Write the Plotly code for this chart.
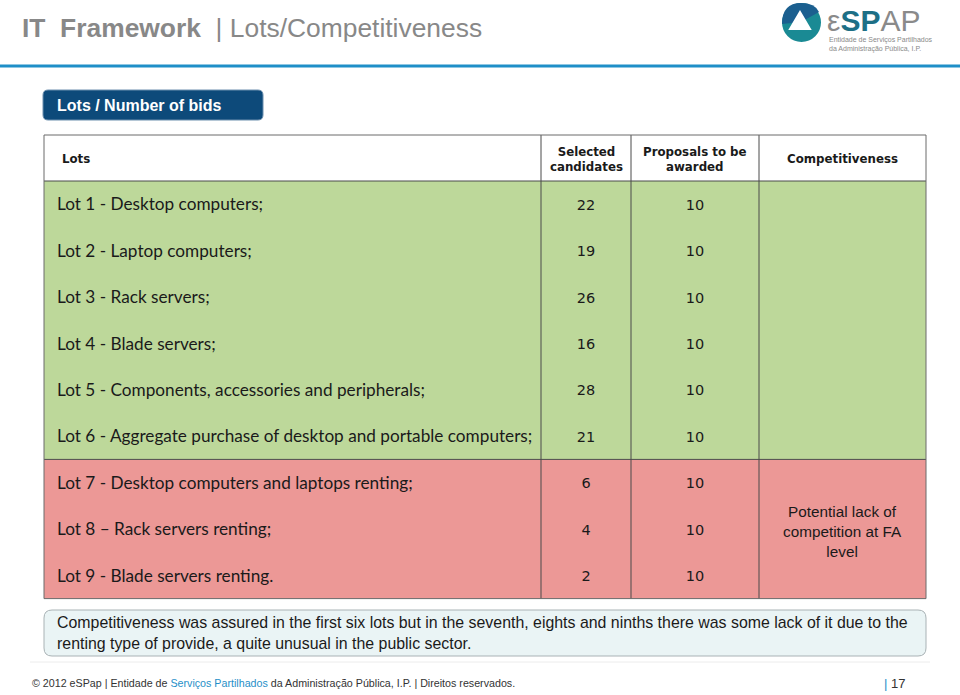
import plotly.graph_objects as go

# ---------------- data ----------------
lots = [
    "Lot 1 - Desktop computers;",
    "Lot 2 - Laptop computers;",
    "Lot 3 - Rack servers;",
    "Lot 4 - Blade servers;",
    "Lot 5 - Components, accessories and peripherals;",
    "Lot 6 - Aggregate purchase of desktop and portable computers;",
    "Lot 7 - Desktop computers and laptops renting;",
    "Lot 8 \u2013 Rack servers renting;",
    "Lot 9 - Blade servers renting.",
]
selected = [22, 19, 26, 16, 28, 21, 6, 4, 2]
proposals = [10, 10, 10, 10, 10, 10, 10, 10, 10]
competitive = [True, True, True, True, True, True, False, False, False]
headers = ["Lots", "Selected<br>candidates", "Proposals to be<br>awarded", "Competitiveness"]
lack_note = "Potential lack of<br>competition at FA<br>level"
note_text = ("Competitiveness was assured in the first six lots but in the seventh, eights and ninths there was some lack of it due to the<br>"
             "renting type of provide, a quite unusual in the public sector.")

# ---------------- geometry / styles ----------------
W, H = 960, 695
GREEN = "#bdd89a"
RED = "#ec9896"
LINE = "#4a4a4a"
X0, X1, X2, X3, X4 = 44, 541, 631, 759, 926
HEAD_TOP, BODY_TOP, ROW_H = 135, 181, 46.4
TEXT_DY = 2
n_ok = sum(competitive)
n = len(lots)
y_split = BODY_TOP + n_ok * ROW_H
y_end = BODY_TOP + n * ROW_H
row_y = [BODY_TOP + (i + 0.5) * ROW_H + TEXT_DY for i in range(n)]

fig = go.Figure()

def rrect(x0, y0, x1, y1, r):
    return (f"M {x0+r},{y0} L {x1-r},{y0} Q {x1},{y0} {x1},{y0+r} L {x1},{y1-r} "
            f"Q {x1},{y1} {x1-r},{y1} L {x0+r},{y1} Q {x0},{y1} {x0},{y1-r} "
            f"L {x0},{y0+r} Q {x0},{y0} {x0+r},{y0} Z")

shapes = []
# blue rule under title
shapes.append(dict(type="line", x0=0, x1=960, y0=66, y1=66, line=dict(color="#1f8fc8", width=3)))
# logo
shapes.append(dict(type="circle", x0=782, x1=821, y0=3, y1=42, fillcolor="#1a8a94", line=dict(width=0)))
shapes.append(dict(type="path", path="M 782,24 Q 782,3 801,3 Q 815,3 819,12 L 801,22 Z", fillcolor="#1b5f8f", line=dict(width=0)))
shapes.append(dict(type="path", path="M 800,12 L 810,29 L 790,29 Z", fillcolor="white", line=dict(color="white", width=2)))
# section label box
shapes.append(dict(type="path", path=rrect(43, 90, 263, 120, 5), fillcolor="#0d4a7a", line=dict(color="#6d8fae", width=1)))
# table backgrounds (below the text traces)
shapes.append(dict(type="rect", x0=X0, x1=X4, y0=HEAD_TOP, y1=BODY_TOP, fillcolor="white", line=dict(width=0), layer="below"))
shapes.append(dict(type="rect", x0=X0, x1=X4, y0=BODY_TOP, y1=y_split, fillcolor=GREEN, line=dict(width=0), layer="below"))
shapes.append(dict(type="rect", x0=X0, x1=X4, y0=y_split, y1=y_end, fillcolor=RED, line=dict(width=0), layer="below"))
# table grid
for xv in (X1, X2, X3):
    shapes.append(dict(type="line", x0=xv, x1=xv, y0=HEAD_TOP, y1=y_end, line=dict(color=LINE, width=1)))
for yv in (BODY_TOP, y_split):
    shapes.append(dict(type="line", x0=X0, x1=X4, y0=yv, y1=yv, line=dict(color=LINE, width=1)))
shapes.append(dict(type="rect", x0=X0, x1=X4, y0=HEAD_TOP, y1=y_end, line=dict(color="#6a6a6a", width=1)))
# note box
shapes.append(dict(type="path", path=rrect(44, 610, 926, 656, 8), fillcolor="#eaf4f5", line=dict(color="#a9b2b5", width=1), layer="below"))
# footer rule
shapes.append(dict(type="line", x0=30, x1=930, y0=662, y1=662, line=dict(color="#ececec", width=1), layer="below"))

# ---------------- table text via traces ----------------
fig.add_trace(go.Scatter(x=[57] * n, y=row_y, text=lots, mode="text", textposition="middle right",
                         textfont=dict(family="Lato", size=17.2, color="#1a1a1a"), hoverinfo="skip"))
fig.add_trace(go.Scatter(x=[(X1 + X2) / 2] * n, y=row_y, text=[str(v) for v in selected], mode="text",
                         textposition="middle center",
                         textfont=dict(family="DejaVu Sans", size=14.5, color="#1a1a1a"), hoverinfo="skip"))
fig.add_trace(go.Scatter(x=[(X2 + X3) / 2] * n, y=row_y, text=[str(v) for v in proposals], mode="text",
                         textposition="middle center",
                         textfont=dict(family="DejaVu Sans", size=14.5, color="#1a1a1a"), hoverinfo="skip"))

# ---------------- annotations ----------------
ann = []
ann.append(dict(x=20, y=28, xanchor="left", yanchor="middle",
                text="<b>IT  Framework</b>  | Lots/Competitiveness",
                font=dict(family="Liberation Sans", size=26.4, color="#888888"), showarrow=False))
ann.append(dict(x=55, y=105, xanchor="left", yanchor="middle", text="<b>Lots / Number of bids</b>",
                font=dict(family="Liberation Sans", size=16, color="white"), showarrow=False))
head_x = [60, (X1 + X2) / 2, (X2 + X3) / 2, (X3 + X4) / 2]
for i, (hx, ht) in enumerate(zip(head_x, headers)):
    ann.append(dict(x=hx, y=(HEAD_TOP + BODY_TOP) / 2 + 1, xanchor="left" if i == 0 else "center", yanchor="middle",
                    text=f"<b>{ht}</b>", align="center",
                    font=dict(family="DejaVu Sans", size=11.8, color="#1a1a1a"), showarrow=False))
lack_rows = [r for r, c in zip(row_y, competitive) if not c]
ann.append(dict(x=(X3 + X4) / 2, y=sum(lack_rows) / len(lack_rows), xanchor="center", yanchor="middle",
                text=lack_note, align="center",
                font=dict(family="Liberation Sans", size=15.3, color="#1a1a1a"), showarrow=False))
ann.append(dict(x=55, y=633, xanchor="left", yanchor="middle", text=note_text, align="left",
                font=dict(family="Liberation Sans", size=15.9, color="#1a1a1a"),
                showarrow=False))
# logo text
ann.append(dict(x=825, y=20, xanchor="left", yanchor="middle",
                text="<span style='color:#8a8a8a'>\u03b5</span><b><span style='color:#1d6f86'>SP</span></b><span style='color:#8a8a8a'>AP</span>",
                font=dict(family="Liberation Sans", size=30, color="#1d6f86"), showarrow=False))
ann.append(dict(x=827, y=44, xanchor="left", yanchor="middle",
                text="Entidade de Serviços Partilhados<br>da Administração Pública, I.P.", align="left",
                font=dict(family="Liberation Sans", size=7, color="#8a8a8a"), showarrow=False))
# footer
ann.append(dict(x=30, y=683, xanchor="left", yanchor="middle",
                text="© 2012 eSPap | Entidade de <span style='color:#1f8fc8'>Serviços Partilhados</span> da Administração Pública, I.P. | Direitos reservados.",
                font=dict(family="Liberation Sans", size=10.7, color="#333333"), showarrow=False))
ann.append(dict(x=882, y=683, xanchor="left", yanchor="middle",
                text="<span style='color:#1f8fc8'>|</span> 17",
                font=dict(family="Liberation Sans", size=13, color="#333333"), showarrow=False))

fig.update_layout(
    width=W, height=H, margin=dict(l=0, r=0, t=0, b=0),
    paper_bgcolor="white", plot_bgcolor="white", showlegend=False,
    xaxis=dict(range=[0, W], visible=False, fixedrange=True),
    yaxis=dict(range=[H, 0], visible=False, fixedrange=True),
    shapes=shapes, annotations=ann,
)
fig.write_html("out.html", config={"displayModeBar": False},
               post_script="document.body.style.margin='0';document.body.style.overflow='hidden';")
